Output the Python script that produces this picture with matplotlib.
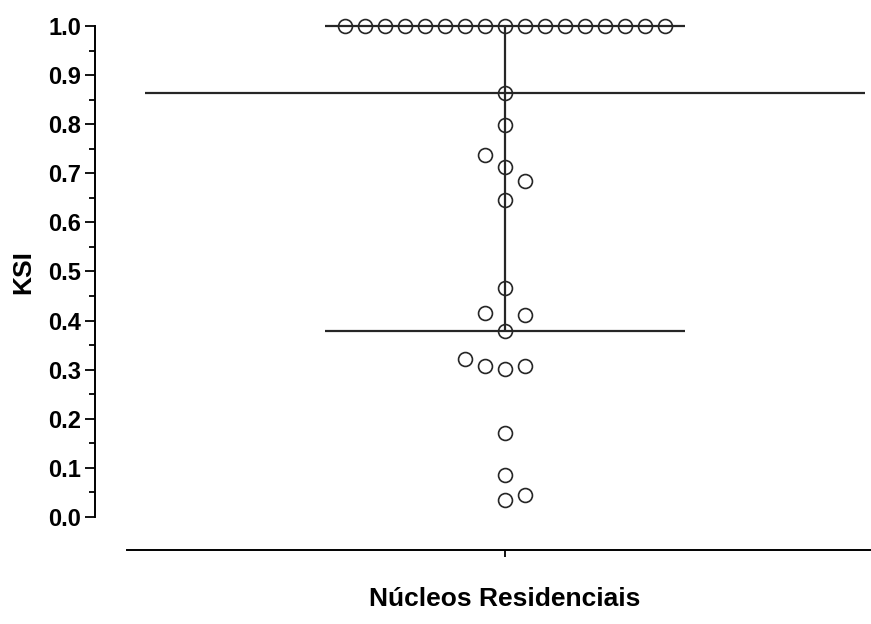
import numpy as np
import matplotlib.pyplot as plt
from matplotlib.ticker import MultipleLocator

plt.rcParams['font.family'] = ['Liberation Sans', 'DejaVu Sans']

# --- dados (KSI por núcleo residencial) ---
group_name = "Núcleos Residenciais"
ksi_top = [1.0] * 17
ksi_upper = [0.864, 0.799, 0.713, 0.646, 0.685, 0.737]
ksi_middle = [0.466, 0.378, 0.412, 0.415, 0.302, 0.307, 0.307]
ksi_lower = [0.171, 0.085, 0.034, 0.044]
ksi_last = [0.322]
ksi = np.array(ksi_top + ksi_upper + ksi_middle + ksi_lower + ksi_last)

y_ticks = np.arange(0, 1.01, 0.1)
y_tick_labels = [f"{v:.1f}" for v in y_ticks]


def swarm_slots(values, min_gap):
    # coloca cada ponto numa coluna livre, alternando o lado
    slots = []
    side = 1
    for v in values:
        def free(s):
            return all(not (ps == s and abs(pv - v) < min_gap)
                       for ps, pv in zip(slots, values))
        if free(0):
            slots.append(0)
            continue
        k = 1
        chosen = None
        while chosen is None:
            for s in (side * k, -side * k):
                if free(s):
                    chosen = s
                    break
            k += 1
        slots.append(chosen)
        side = -side
    return np.array(slots)


slot_w = 0.2
x_pts = swarm_slots(ksi, 0.045) * slot_w
q1, med, q3 = np.percentile(ksi, [25, 50, 75], method='weibull')

line_c = '#262626'

fig = plt.figure(figsize=(8.71, 6.24), dpi=100)
ax = fig.add_axes([0.1091, 0.1715, 0.8909, 0.7869])

ax.hlines(med, -3.6, 3.6, color=line_c, lw=1.6, zorder=2, clip_on=False)
ax.hlines([q1, q3], -1.8, 1.8, color=line_c, lw=1.6, zorder=2, clip_on=False)
ax.vlines(0, q1, q3, color=line_c, lw=1.6, zorder=2, clip_on=False)
ax.plot(x_pts, ksi, 'o', mfc='none', mec=line_c, ms=10, mew=1.2,
        clip_on=False, zorder=3)

ax.set_xlim(-4.10, 3.66)
ax.set_ylim(0, 1)

for s in ['top', 'right']:
    ax.spines[s].set_visible(False)
ax.spines['left'].set_bounds(0, 1)
ax.spines['left'].set_linewidth(1.4)
ax.spines['bottom'].set_position(('outward', 23.8))
ax.spines['bottom'].set_bounds(-3.78, 3.66)
ax.spines['bottom'].set_linewidth(1.4)

ax.set_yticks(y_ticks)
ax.set_yticklabels(y_tick_labels, fontsize=17, fontweight='bold')
ax.yaxis.set_minor_locator(MultipleLocator(0.05))
ax.tick_params(axis='y', which='major', length=7, width=1.3, pad=3)
ax.tick_params(axis='y', which='minor', length=4.5, width=1.3)
ax.set_xticks([0])
ax.set_xticklabels([''])
ax.tick_params(axis='x', length=5, width=1.3)

ax.text(0, -0.168, group_name, transform=ax.get_xaxis_transform(),
        ha='center', va='center', fontsize=19, fontweight='bold')
fig.text(23 / 871, 1 - 272 / 624, 'KSI', rotation=90, ha='center',
         va='center', fontsize=19, fontweight='bold')

fig.savefig('out.png', dpi=100)
